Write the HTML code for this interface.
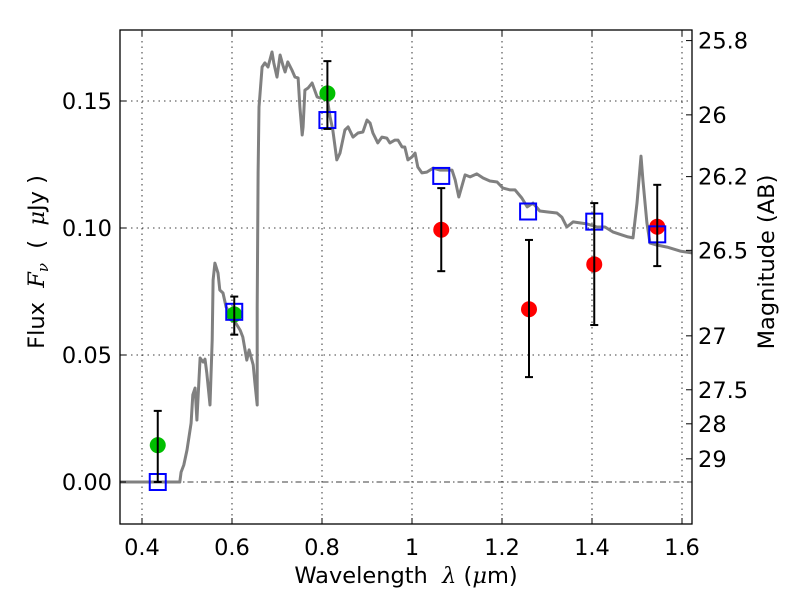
<!DOCTYPE html>
<html><head><meta charset="utf-8"><style>
body{margin:0;background:#fff}
svg{display:block;font-family:"DejaVu Sans","Liberation Sans",sans-serif}
</style></head><body>
<svg id="chart" width="800" height="600" viewBox="0 0 800 600" xmlns="http://www.w3.org/2000/svg">
<rect width="800" height="600" fill="#fff"/>
<g id="grid"></g>
<g id="series"></g>
<rect x="120" y="30" width="572" height="494" fill="none" stroke="#000" stroke-width="1.3"/>
<g id="ticks" font-size="22.5"></g>
<text x="406" y="583" font-size="22.5" text-anchor="middle" xml:space="preserve">Wavelength  <tspan font-style="italic" font-family="DejaVu Serif, serif">λ</tspan> (<tspan font-style="italic" font-family="DejaVu Serif, serif">μ</tspan>m)</text>
<text transform="translate(44,262) rotate(-90)" font-size="22.5" text-anchor="middle" xml:space="preserve">Flux  <tspan font-style="italic" font-family="DejaVu Serif, serif">F</tspan><tspan font-style="italic" font-size="15" dy="4" font-family="DejaVu Serif, serif">ν</tspan><tspan dy="-4">  (  </tspan><tspan font-style="italic" font-family="DejaVu Serif, serif">μ</tspan>Jy )</text>
<text transform="translate(774,262) rotate(-90)" font-size="22.5" text-anchor="middle">Magnitude (AB)</text>
</svg>
<script>
const specWave=[0.351,0.462,0.484,0.487,0.493,0.500,0.509,0.513,0.518,0.522,0.529,0.536,0.540,0.544,0.551,0.556,0.558,0.562,0.569,0.573,0.580,0.587,0.600,0.618,0.624,0.633,0.638,0.647,0.651,0.656,0.656,0.658,0.660,0.667,0.673,0.680,0.689,0.693,0.700,0.707,0.713,0.718,0.724,0.733,0.740,0.747,0.751,0.756,0.758,0.762,0.769,0.778,0.789,0.796,0.811,0.818,0.824,0.833,0.840,0.851,0.858,0.869,0.880,0.891,0.900,0.907,0.913,0.924,0.933,0.944,0.951,0.962,0.969,0.978,0.984,0.991,1.000,1.007,1.013,1.022,1.033,1.047,1.062,1.073,1.089,1.096,1.104,1.118,1.129,1.144,1.158,1.173,1.189,1.202,1.218,1.229,1.244,1.256,1.269,1.284,1.302,1.322,1.333,1.344,1.358,1.373,1.389,1.411,1.429,1.447,1.467,1.480,1.491,1.500,1.509,1.513,1.522,1.529,1.544,1.567,1.596,1.622];
const specFlux=[0,0,0,0.0039,0.0067,0.0126,0.0232,0.0343,0.0370,0.0244,0.0488,0.0472,0.0484,0.0429,0.0303,0.0559,0.0795,0.0862,0.0823,0.0756,0.0744,0.0689,0.0650,0.0598,0.0571,0.0480,0.0520,0.0461,0.0390,0.0303,0.0689,0.1217,0.1476,0.1634,0.1650,0.1634,0.1693,0.1650,0.1594,0.1681,0.1642,0.1614,0.1654,0.1622,0.1594,0.1591,0.1476,0.1366,0.1398,0.1543,0.1551,0.1571,0.1516,0.1512,0.1516,0.1437,0.1386,0.1268,0.1295,0.1386,0.1398,0.1358,0.1374,0.1378,0.1425,0.1413,0.1374,0.1335,0.1358,0.1354,0.1335,0.1346,0.1346,0.1319,0.1319,0.1268,0.1280,0.1295,0.1240,0.1217,0.1220,0.1236,0.1228,0.1228,0.1228,0.1189,0.1122,0.1209,0.1201,0.1213,0.1197,0.1185,0.1181,0.1157,0.1150,0.1150,0.1118,0.1083,0.1098,0.1067,0.1063,0.1059,0.1043,0.1004,0.1024,0.1020,0.1016,0.1004,0.1004,0.0984,0.0972,0.0965,0.0961,0.1098,0.1283,0.1189,0.1020,0.0941,0.0933,0.0925,0.0909,0.0902];
const modelWave=[0.435,0.605,0.812,1.065,1.258,1.405,1.545];
const modelFlux=[0.0,0.067,0.1425,0.1205,0.1065,0.1025,0.0975];
const greenWave=[0.435,0.605,0.812];
const greenFlux=[0.0145,0.066,0.153];
const greenLo=[0.0,0.058,0.139];
const greenHi=[0.028,0.073,0.1657];
const redWave=[1.065,1.26,1.405,1.545];
const redFlux=[0.0993,0.068,0.0857,0.1005];
const redLo=[0.083,0.0413,0.0618,0.085];
const redHi=[0.1157,0.0953,0.1098,0.117];
const xTicks=[0.4,0.6,0.8,1.0,1.2,1.4,1.6];
const xTickLabels=["0.4","0.6","0.8","1","1.2","1.4","1.6"];
const yTicks=[0,0.05,0.10,0.15];
const yTickLabels=["0.00","0.05","0.10","0.15"];
const magTicks=[25.8,26,26.2,26.5,27,27.5,28,29];
const magTickLabels=["25.8","26","26.2","26.5","27","27.5","28","29"];

const X=v=>142+(v-0.4)*450;
const Y=v=>482-v*2540;
const magToFlux=m=>Math.pow(10,(23.9-m)/2.5);
const NS="http://www.w3.org/2000/svg";
function mk(tag,attrs,parent){const e=document.createElementNS(NS,tag);for(const k in attrs)e.setAttribute(k,attrs[k]);parent.appendChild(e);return e;}
const grid=document.getElementById('grid'),series=document.getElementById('series'),ticks=document.getElementById('ticks');

xTicks.forEach((t,i)=>{
  const g=mk('line',{x1:X(t),x2:X(t),y1:30,y2:524,stroke:'#000','stroke-width':0.8,'stroke-dasharray':'1.5,4'},grid);
  
  
  [[524,518],[30,36]].forEach(p=>{const tk=mk('line',{x1:X(t),x2:X(t),y1:p[0],y2:p[1],stroke:'#000','stroke-width':1},ticks);
    
    });
  const lb=mk('text',{x:X(t),y:555,'text-anchor':'middle'},ticks);lb.textContent=xTickLabels[i];
  
  
});
yTicks.forEach((t,i)=>{
  const g=mk('line',{x1:120,x2:692,y1:Y(t),y2:Y(t),stroke:'#000','stroke-width':0.8,'stroke-dasharray':t===0?'6,3,1.5,3':'1.5,4'},grid);
  
  
  const tk=mk('line',{x1:120,x2:126,y1:Y(t),y2:Y(t),stroke:'#000','stroke-width':1},ticks);
  
  
  const lb=mk('text',{x:112,y:Y(t)+8,'text-anchor':'end'},ticks);lb.textContent=yTickLabels[i];
  
  
});
magTicks.forEach((m,i)=>{
  const y=Y(magToFlux(m));
  const tk=mk('line',{x1:686,x2:692,y1:y,y2:y,stroke:'#000','stroke-width':1},ticks);
  
  
  const lb=mk('text',{x:698,y:y+8,'text-anchor':'start'},ticks);lb.textContent=magTickLabels[i];
  
  
});

const pts=specWave.map((w,i)=>X(w).toFixed(1)+','+Y(specFlux[i]).toFixed(1)).join(' ');
const sp=mk('polyline',{points:pts,fill:'none',stroke:'#808080','stroke-width':3,'stroke-linejoin':'round'},series);



function errbar(w,lo,hi,name){
  const g=mk('g',{stroke:'#000','stroke-width':2},series);
  
  
  const x=X(w);
  mk('line',{x1:x,x2:x,y1:Y(lo),y2:Y(hi)},g);
  mk('line',{x1:x-4,x2:x+4,y1:Y(lo),y2:Y(lo)},g);
  mk('line',{x1:x-4,x2:x+4,y1:Y(hi),y2:Y(hi)},g);
}
greenWave.forEach((w,i)=>{
  const c=mk('circle',{cx:X(w),cy:Y(greenFlux[i]),r:8,fill:'#00bf00'},series);
  
  
});
redWave.forEach((w,i)=>{
  const c=mk('circle',{cx:X(w),cy:Y(redFlux[i]),r:8,fill:'#ff0000'},series);
  
  
});
modelWave.forEach((w,i)=>{
  const r=mk('rect',{x:X(w)-8,y:Y(modelFlux[i])-8,width:16,height:16,fill:'none',stroke:'#0000ff','stroke-width':2},series);
  
  
});
greenWave.forEach((w,i)=>errbar(w,greenLo[i],greenHi[i],'green-errorbar'));
redWave.forEach((w,i)=>errbar(w,redLo[i],redHi[i],'red-errorbar'));
</script>
</body></html>
